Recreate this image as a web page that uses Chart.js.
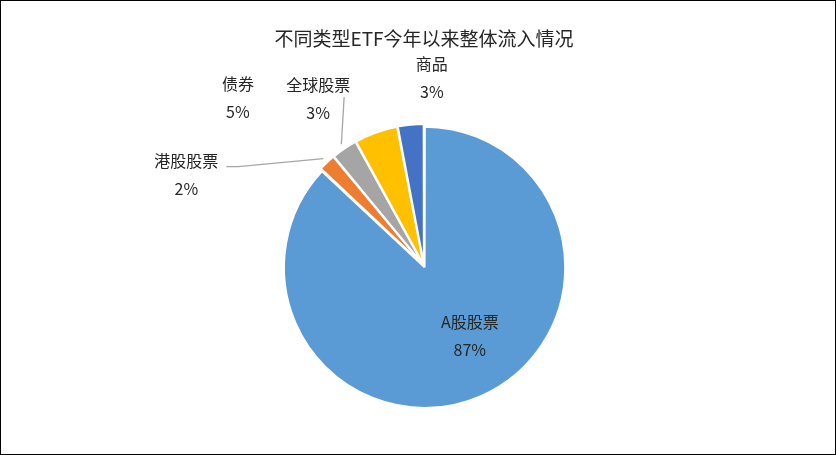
<!DOCTYPE html>
<html><head><meta charset="utf-8">
<script src="https://cdn.jsdelivr.net/npm/chart.js@4"></script>
<style>
html,body{margin:0;padding:0;background:#fff;}
#wrap{position:absolute;left:0;top:0;width:834px;height:453px;border:1px solid #000;}
</style></head><body>
<div id="wrap"><canvas id="c"></canvas></div>
<script>
const categories = ['A股股票','港股股票','全球股票','债券','商品'];
const percents = [87, 2, 3, 5, 3];
const colors = ['#5b9bd5','#ed7d31','#a5a5a5','#ffc000','#4472c4'];
// label placement: [radius factor, angle in degrees clockwise from top, leader line?]
const labelPos = [[0.6,146.7,false],[1.83,291,true],[1.42,327.6,true],[1.8,312,false],[1.35,2.4,false]];
const FONT = '"Noto Sans CJK SC", "Noto Sans", sans-serif';

const labelPlugin = {
  id:'labels',
  afterDatasetsDraw(chart){
    const ctx = chart.ctx;
    const meta = chart.getDatasetMeta(0);
    ctx.save();
    ctx.font = '16px ' + FONT;
    ctx.fillStyle = '#262626';
    ctx.textAlign='center'; ctx.textBaseline='middle';
    meta.data.forEach((arc,i)=>{
      const cx = arc.x, cy = arc.y, R = arc.outerRadius;
      const [k,deg,line] = labelPos[i];
      const a = deg*Math.PI/180;
      const lx = cx + k*R*Math.sin(a), ly = cy - k*R*Math.cos(a);
      if(line){
        const mid = (arc.startAngle+arc.endAngle)/2;
        const off = 8;
        const px = cx + Math.cos(mid)*(R+off), py = cy + Math.sin(mid)*(R+off);
        const w = ctx.measureText(categories[i]).width;
        let ex, ey;
        if(i===1){ ex = lx + w/2 + 8; ey = ly - 8; }
        else { ex = lx + 26; ey = ly - 2; }
        ctx.strokeStyle='#a6a6a6'; ctx.lineWidth=1.3;
        ctx.beginPath(); ctx.moveTo(ex,ey);
        if(i===1){ ctx.lineTo(ex+12, ey); }
        ctx.lineTo(px,py); ctx.stroke();
      }
      ctx.fillText(categories[i], lx, ly-14);
      ctx.fillText(percents[i]+'%', lx, ly+14);
    });
    ctx.restore();
  }
};

new Chart(document.getElementById('c'),{
  type:'pie',
  data:{labels:categories,datasets:[{data:percents,backgroundColor:colors,borderColor:'#fff',borderWidth:2,offset:6}]},
  options:{
    responsive:true,maintainAspectRatio:false,animation:false,
    layout:{padding:{top:0,bottom:45,left:12,right:0}},
    plugins:{
      legend:{display:false},tooltip:{enabled:false},
      title:{display:true,text:'不同类型ETF今年以来整体流入情况',color:'#262626',
        font:{family:FONT,size:19,weight:'normal'},padding:{top:26,bottom:73}}
    }
  },
  plugins:[labelPlugin]
});
</script>
</body></html>
